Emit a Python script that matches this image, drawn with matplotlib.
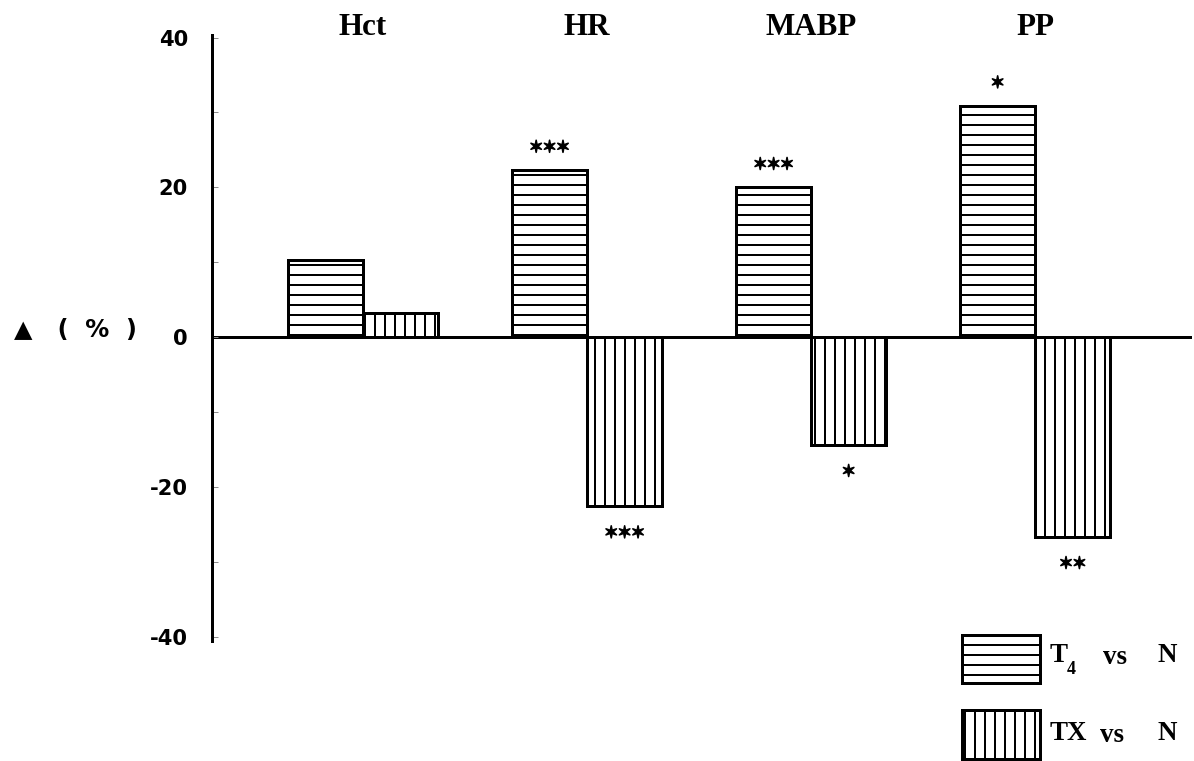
import matplotlib.pyplot as plt
import matplotlib.patheffects as pe
import numpy as np
from matplotlib.patches import Rectangle

categories = ['Hct', 'HR', 'MABP', 'PP']
t4_vs_n = [10.3, 22.3, 20.0, 30.9]
tx_vs_n = [3.2, -22.6, -14.4, -26.7]
t4_stars = ['', '***', '***', '*']
tx_stars = ['', '***', '*', '**']
y_ticks = [-40, -20, 0, 20, 40]
y_ticklabels = ['-40', '-20', '0', '20', '40']

DPI = 60
W, H = 1194, 761


def pt(px):
    # pixel size -> points at this dpi
    return px * 72 / DPI


plt.rcParams['hatch.linewidth'] = pt(2)
plt.rcParams['axes.unicode_minus'] = False

fig = plt.figure(figsize=(W / DPI, H / DPI), dpi=DPI)
ax = fig.add_axes([212 / W, 1 - 641 / H, (1192 - 212) / W, (641 - 35.3) / H])

x = np.arange(len(categories))
w = 0.335
ax.bar(x - w / 2, t4_vs_n, width=w, facecolor='white', edgecolor='black',
       linewidth=pt(3), hatch='-')
ax.bar(x + w / 2, tx_vs_n, width=w, facecolor='white', edgecolor='black',
       linewidth=pt(3), hatch='|')

ax.axhline(0, color='black', linewidth=pt(3), zorder=0)

ax.set_xlim(-0.674, 3.70)
ax.set_ylim(-40.6, 40.3)

for s in ['top', 'right', 'bottom']:
    ax.spines[s].set_visible(False)
ax.spines['left'].set_linewidth(pt(3))

ax.set_xticks([])
ax.set_yticks(y_ticks)
ax.set_yticklabels(y_ticklabels, fontsize=pt(21), fontweight='bold',
                   family='DejaVu Sans')
ax.set_yticks([-30, -10, 10, 30], minor=True)
ax.tick_params(axis='y', which='both', direction='in', length=pt(6),
               width=pt(1), color='0.55', pad=pt(24))

# category names on top
for i, c in enumerate(categories):
    ax.text(x[i], 41.4, c, ha='center', va='center', fontsize=pt(31),
            fontweight='bold', family='Liberation Serif', clip_on=False)

# significance stars
star_fx = [pe.withStroke(linewidth=pt(1.6), foreground='black')]
for i in range(len(categories)):
    if t4_stars[i]:
        ax.text(x[i] - w / 2, t4_vs_n[i] + 3.0, t4_stars[i].replace('*', '\u2736'),
                ha='center', va='center', fontsize=pt(16), family='DejaVu Sans',
                path_effects=star_fx)
    if tx_stars[i]:
        ax.text(x[i] + w / 2, tx_vs_n[i] - 3.6, tx_stars[i].replace('*', '\u2736'),
                ha='center', va='center', fontsize=pt(16), family='DejaVu Sans',
                path_effects=star_fx)

# y label
fig.text(76 / W, 1 - 330 / H, '\u25b2   (  %  )', ha='center', va='center',
         fontsize=pt(24), fontweight='bold', family='DejaVu Sans')

# legend drawn by hand
fig.add_artist(Rectangle((962 / W, 1 - 683 / H), 78 / W, 48 / H,
                         transform=fig.transFigure, facecolor='white',
                         edgecolor='black', linewidth=pt(3), hatch='-'))
fig.add_artist(Rectangle((962 / W, 1 - 759 / H), 78 / W, 49 / H,
                         transform=fig.transFigure, facecolor='white',
                         edgecolor='black', linewidth=pt(3), hatch='|'))

lg = dict(va='center', fontsize=pt(27), fontweight='bold', family='Liberation Serif')
fig.text(1050 / W, 1 - 656 / H, 'T', ha='left', **lg)
fig.text(1067 / W, 1 - 670 / H, '4', ha='left', va='center', fontsize=pt(18),
         fontweight='bold', family='Liberation Serif')
fig.text(1103 / W, 1 - 658 / H, 'vs', ha='left', **lg)
fig.text(1158 / W, 1 - 656 / H, 'N', ha='left', **lg)
fig.text(1050 / W, 1 - 733 / H, 'TX', ha='left', **lg)
fig.text(1100 / W, 1 - 735 / H, 'vs', ha='left', **lg)
fig.text(1158 / W, 1 - 733 / H, 'N', ha='left', **lg)

fig.savefig('out.png', dpi=DPI)
